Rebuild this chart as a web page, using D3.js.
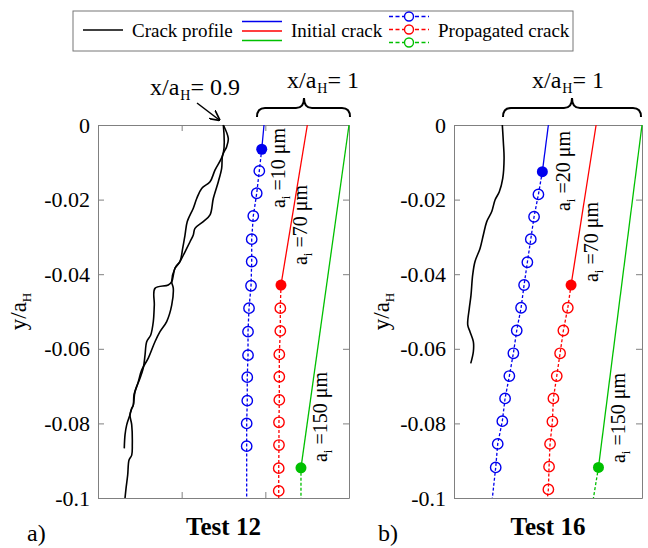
<!DOCTYPE html>
<html>
<head>
<meta charset="utf-8">
<script src="https://cdn.jsdelivr.net/npm/d3@7"></script>
<style>
  body { margin: 0; background: #fff; }
  text { font-family: "Liberation Serif", "Times New Roman", serif; }
</style>
</head>
<body>
<div id="chart"></div>
<script>
// ============================================
// DATA  (x and y in units of a_H)
// ============================================

const yTicks = [0, -0.02, -0.04, -0.06, -0.08, -0.1];
const yTickLabels = ['0', '-0.02', '-0.04', '-0.06', '-0.08', '-0.1'];
const xTicksA = [0.1, 0.2];
const xTicksB = [];

const legendLabels = ['Crack profile', 'Initial crack', 'Propagated crack'];
const panelTitles = ['Test 12', 'Test 16'];
const panelTags = ['a)', 'b)'];
const aiLabelsA = ['10', '70', '150'];
const aiLabelsB = ['20', '70', '150'];

// Test 12 - crack profile (two faces)
const profileA1 = [
  [0.1498, 0], [0.1498, -0.0075], [0.1398, -0.0121], [0.1339, -0.0152], [0.1239, -0.0170],
  [0.1180, -0.0197], [0.1139, -0.0223], [0.1067, -0.0259], [0.1040, -0.0295], [0.1012, -0.0331],
  [0.0980, -0.0366], [0.0920, -0.0384], [0.0881, -0.0420], [0.0840, -0.0429], [0.0681, -0.0438],
  [0.0673, -0.0483], [0.0661, -0.0527], [0.0630, -0.0563], [0.0582, -0.0581], [0.0562, -0.0617],
  [0.0541, -0.0652], [0.0502, -0.0679], [0.0442, -0.0715], [0.0422, -0.0751], [0.0403, -0.0760],
  [0.0382, -0.0777], [0.0343, -0.0804], [0.0323, -0.0831], [0.0314, -0.0867]
];
const profileA2 = [
  [0.1498, 0], [0.1557, -0.0036], [0.1538, -0.0058], [0.1490, -0.0080], [0.1478, -0.0116],
  [0.1438, -0.0152], [0.1378, -0.0197], [0.1339, -0.0241], [0.1258, -0.0259], [0.1159, -0.0277],
  [0.1139, -0.0295], [0.1100, -0.0313], [0.1040, -0.0340], [0.0980, -0.0366], [0.0920, -0.0384],
  [0.0881, -0.0420], [0.0900, -0.0438], [0.0881, -0.0483], [0.0821, -0.0527], [0.0741, -0.0554],
  [0.0681, -0.0581], [0.0601, -0.0625], [0.0522, -0.0657], [0.0482, -0.0688], [0.0430, -0.0724],
  [0.0422, -0.0751], [0.0403, -0.0760], [0.0382, -0.0777], [0.0403, -0.0804], [0.0410, -0.0858],
  [0.0403, -0.0885], [0.0371, -0.0898], [0.0355, -0.0938], [0.0335, -0.0974], [0.0323, -0.1]
];

// Test 12 - initial (top -> tip) and propagated (tip -> ... -> end)
const aInitialBlue = [[0.1984, 0], [0.1957, -0.0065]];
const aPropagatedBlue = [
  [0.1957, -0.0065], [0.1928, -0.0123], [0.1897, -0.0183], [0.1856, -0.0244], [0.1837, -0.0306],
  [0.1837, -0.0366], [0.1829, -0.0431], [0.1805, -0.0491], [0.1793, -0.0554], [0.1793, -0.0617],
  [0.1784, -0.0676], [0.1784, -0.0739], [0.1777, -0.0800], [0.1777, -0.0861], [0.1777, -0.1]
];
const aInitialRed = [[0.2502, 0], [0.2187, -0.0429]];
const aPropagatedRed = [
  [0.2187, -0.0429], [0.2179, -0.0491], [0.2179, -0.0552], [0.2167, -0.0615], [0.2167, -0.0675],
  [0.2167, -0.0737], [0.2163, -0.0797], [0.2163, -0.0858], [0.2160, -0.0920], [0.2160, -0.0981],
  [0.2160, -0.1]
];
const aInitialGreen = [[0.3, 0], [0.2426, -0.0919]];
const aPropagatedGreen = [[0.2426, -0.0919], [0.2426, -0.1]];

// Test 16 - crack profile
const profileB = [
  [0.0577, 0], [0.0589, -0.0045], [0.0598, -0.0089], [0.0582, -0.0143], [0.0541, -0.0179],
  [0.0490, -0.0201], [0.0451, -0.0232], [0.0391, -0.0259], [0.0350, -0.0295], [0.0311, -0.0331],
  [0.0251, -0.0366], [0.0223, -0.0402], [0.0203, -0.0456], [0.0183, -0.0491], [0.0164, -0.0536],
  [0.0191, -0.0554], [0.0231, -0.0581], [0.0231, -0.0608], [0.0200, -0.0639]
];

// Test 16 - initial and propagated
const bInitialBlue = [[0.1127, 0], [0.1055, -0.0125]];
const bPropagatedBlue = [
  [0.1055, -0.0125], [0.1008, -0.0186], [0.0956, -0.0246], [0.0917, -0.0306], [0.0876, -0.0368],
  [0.0837, -0.0429], [0.0801, -0.0490], [0.0749, -0.0551], [0.0709, -0.0612], [0.0661, -0.0673],
  [0.0610, -0.0733], [0.0577, -0.0794], [0.0522, -0.0855], [0.0498, -0.0918], [0.0458, -0.1]
];
const bInitialRed = [[0.1697, 0], [0.1398, -0.0429]];
const bPropagatedRed = [
  [0.1398, -0.0429], [0.1359, -0.0490], [0.1306, -0.0551], [0.1267, -0.0612], [0.1227, -0.0673],
  [0.1187, -0.0733], [0.1175, -0.0795], [0.1147, -0.0855], [0.1135, -0.0916], [0.1127, -0.0977],
  [0.1115, -0.1]
];
const bInitialGreen = [[0.2245, 0], [0.1725, -0.0918]];
const bPropagatedGreen = [[0.1725, -0.0918], [0.1665, -0.1]];

// ============================================
// SETUP
// ============================================

const W = 648, H = 548;
const serif = '"Liberation Serif", "Times New Roman", serif';
const colors = { blue: '#0000ee', red: '#ff0000', green: '#00c000' };
const axisGray = '#808080';

const svg = d3.select('#chart')
  .append('svg')
  .attr('width', W)
  .attr('height', H)
  .style('background', '#fff');

svg.append('defs').append('marker')
  .attr('id', 'arrow')
  .attr('viewBox', '0 0 10 10')
  .attr('refX', 9).attr('refY', 5)
  .attr('markerWidth', 7).attr('markerHeight', 7)
  .attr('orient', 'auto')
  .append('path')
  .attr('d', 'M0,0 L10,5 L0,10')
  .attr('fill', 'none')
  .attr('stroke', '#000')
  .attr('stroke-width', 1.6);

const yScale = d3.scaleLinear().domain([-0.1, 0]).range([498, 125]);

const panels = [
  {
    x: d3.scaleLinear().domain([0, 0.3]).range([98, 349]),
    xTicks: xTicksA,
    profiles: [profileA1, profileA2],
    series: [
      { color: colors.blue, initial: aInitialBlue, propagated: aPropagatedBlue },
      { color: colors.red, initial: aInitialRed, propagated: aPropagatedRed },
      { color: colors.green, initial: aInitialGreen, propagated: aPropagatedGreen }
    ],
    ai: aiLabelsA,
    aiPos: [[285, 168], [307, 225], [327, 417]],
    title: panelTitles[0], tag: panelTags[0], tagX: 27,
    yLabelX: 26
  },
  {
    x: d3.scaleLinear().domain([0, 0.2245]).range([454, 642]),
    xTicks: xTicksB,
    profiles: [profileB],
    series: [
      { color: colors.blue, initial: bInitialBlue, propagated: bPropagatedBlue },
      { color: colors.red, initial: bInitialRed, propagated: bPropagatedRed },
      { color: colors.green, initial: bInitialGreen, propagated: bPropagatedGreen }
    ],
    ai: aiLabelsB,
    aiPos: [[570, 171], [598, 242], [625, 418]],
    title: panelTitles[1], tag: panelTags[1], tagX: 378,
    yLabelX: 389
  }
];

function styleAxis(g) {
  g.attr('font-family', serif);
  g.select('.domain').attr('stroke', axisGray).attr('stroke-width', 1);
  g.selectAll('.tick line').attr('stroke', axisGray);
  g.selectAll('.tick text')
    .attr('fill', '#000')
    .style('font-size', '22px')
    .style('font-family', serif);
}

// ============================================
// PANELS
// ============================================

panels.forEach(p => {
  const g = svg.append('g');
  const [x0, x1] = p.x.range();
  const line = d3.line().x(d => p.x(d[0])).y(d => yScale(d[1]));
  const smooth = d3.line().x(d => p.x(d[0])).y(d => yScale(d[1]))
    .curve(d3.curveCatmullRom.alpha(0.5));

  // frame + ticks
  g.append('g').attr('transform', `translate(${x0},0)`)
    .call(d3.axisLeft(yScale).tickValues(yTicks).tickFormat((d, i) => yTickLabels[i])
      .tickSize(-6).tickSizeOuter(0).tickPadding(8))
    .call(styleAxis);
  g.append('g').attr('transform', `translate(${x1},0)`)
    .call(d3.axisRight(yScale).tickValues(yTicks).tickFormat('').tickSize(-6).tickSizeOuter(0))
    .call(styleAxis);
  g.append('g').attr('transform', `translate(0,${yScale(0)})`)
    .call(d3.axisTop(p.x).tickValues(p.xTicks).tickFormat('').tickSize(-6).tickSizeOuter(0))
    .call(styleAxis);
  g.append('g').attr('transform', `translate(0,${yScale(-0.1)})`)
    .call(d3.axisBottom(p.x).tickValues(p.xTicks).tickFormat('').tickSize(-6).tickSizeOuter(0))
    .call(styleAxis);

  // crack profile
  p.profiles.forEach(pr => {
    g.append('path')
      .attr('d', smooth(pr))
      .attr('fill', 'none')
      .attr('stroke', '#000')
      .attr('stroke-width', 1.6);
  });

  // initial and propagated cracks
  p.series.forEach(s => {
    g.append('path')
      .attr('d', line(s.initial))
      .attr('fill', 'none')
      .attr('stroke', s.color)
      .attr('stroke-width', 1.3);
    g.append('path')
      .attr('d', line(s.propagated))
      .attr('fill', 'none')
      .attr('stroke', s.color)
      .attr('stroke-width', 1.3)
      .attr('stroke-dasharray', '3,2');
    g.selectAll(null)
      .data(s.propagated.slice(1, -1))
      .join('circle')
      .attr('cx', d => p.x(d[0]))
      .attr('cy', d => yScale(d[1]))
      .attr('r', 5.2)
      .attr('fill', 'none')
      .attr('stroke', s.color)
      .attr('stroke-width', 1.4);
    const tip = s.propagated[0];
    g.append('circle')
      .attr('cx', p.x(tip[0]))
      .attr('cy', yScale(tip[1]))
      .attr('r', 5.5)
      .attr('fill', s.color);
  });

  // a_i labels
  p.ai.forEach((lab, i) => {
    const [lx, ly] = p.aiPos[i];
    const t = g.append('text')
      .attr('transform', `translate(${lx},${ly}) rotate(-90)`)
      .attr('text-anchor', 'middle')
      .style('font-size', '20px');
    t.append('tspan').text('a');
    t.append('tspan').attr('dy', 5).style('font-size', '13px').text('i');
    t.append('tspan').attr('dy', -5).text(` =${lab} μm`);
  });

  // y label
  const yl = g.append('text')
    .attr('transform', `translate(${p.yLabelX},${(yScale(0) + yScale(-0.1)) / 2}) rotate(-90)`)
    .attr('text-anchor', 'middle')
    .style('font-size', '23px');
  yl.append('tspan').text('y/a');
  yl.append('tspan').attr('dy', 5).style('font-size', '13px').text('H');

  // title + tag
  g.append('text')
    .attr('x', (x0 + x1) / 2)
    .attr('y', 535)
    .attr('text-anchor', 'middle')
    .style('font-size', '25px')
    .style('font-weight', 'bold')
    .text(p.title);
  g.append('text')
    .attr('x', p.tagX)
    .attr('y', 541)
    .style('font-size', '24px')
    .text(p.tag);
});

// ============================================
// ANNOTATIONS
// ============================================

function xaText(x, y, value) {
  const t = svg.append('text').attr('x', x).attr('y', y).style('font-size', '24px');
  t.append('tspan').text('x/a');
  t.append('tspan').attr('dx', 1).attr('dy', 5).style('font-size', '14px').text('H');
  t.append('tspan').attr('dy', -5).text('= ' + value);
}

function brace(xa, xb, xm) {
  const yb = 117, yh = 108, yt = 98, r = 8;
  const d = `M${xa},${yb} Q${xa},${yh} ${xa + r},${yh} L${xm - r},${yh} Q${xm},${yh} ${xm},${yt}` +
            ` Q${xm},${yh} ${xm + r},${yh} L${xb - r},${yh} Q${xb},${yh} ${xb},${yb}`;
  svg.append('path').attr('d', d).attr('fill', 'none').attr('stroke', '#000').attr('stroke-width', 2);
}

xaText(150, 95, '0.9');
svg.append('line')
  .attr('x1', 197).attr('y1', 103)
  .attr('x2', panels[0].x(profileA1[0][0]) - 4).attr('y2', 120)
  .attr('stroke', '#000').attr('stroke-width', 1.5)
  .attr('marker-end', 'url(#arrow)');

xaText(287, 88, '1');
brace(257, 350, 304);
xaText(532, 88, '1');
brace(503, 641, 572);

// ============================================
// LEGEND
// ============================================

const lg = svg.append('g');
lg.append('rect')
  .attr('x', 73).attr('y', 11).attr('width', 500).attr('height', 40)
  .attr('fill', '#fff').attr('stroke', '#777').attr('stroke-width', 1);

lg.append('line').attr('x1', 83).attr('x2', 123).attr('y1', 30).attr('y2', 30)
  .attr('stroke', '#000').attr('stroke-width', 1.6);

const legendColors = [colors.blue, colors.red, colors.green];
legendColors.forEach((c, i) => {
  lg.append('line').attr('x1', 242).attr('x2', 282)
    .attr('y1', 21.5 + i * 9.5).attr('y2', 21.5 + i * 9.5)
    .attr('stroke', c).attr('stroke-width', 1.3);
  const yy = 16.5 + i * 13;
  lg.append('line').attr('x1', 389).attr('x2', 429).attr('y1', yy).attr('y2', yy)
    .attr('stroke', c).attr('stroke-width', 1.3).attr('stroke-dasharray', '4,2.5');
  lg.append('circle').attr('cx', 409).attr('cy', yy).attr('r', 4.5)
    .attr('fill', '#fff').attr('stroke', c).attr('stroke-width', 1.4);
});

[[132, legendLabels[0]], [291, legendLabels[1]], [438, legendLabels[2]]].forEach(([lx, txt]) => {
  lg.append('text').attr('x', lx).attr('y', 37).style('font-size', '19px').text(txt);
});
</script>
</body>
</html>
